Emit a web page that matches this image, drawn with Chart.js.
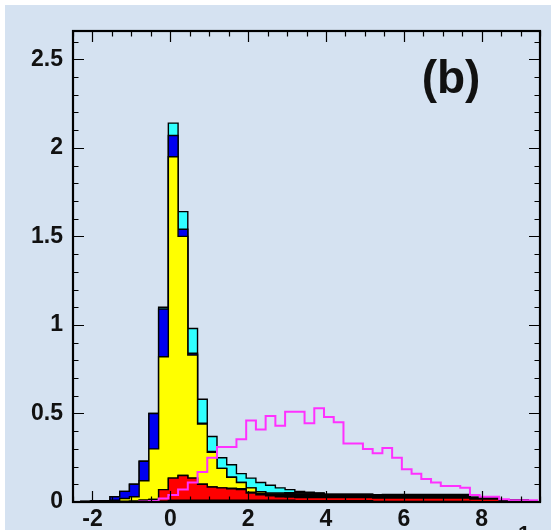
<!DOCTYPE html>
<html>
<head>
<meta charset="utf-8">
<script src="https://cdn.jsdelivr.net/npm/chart.js@4/dist/chart.umd.min.js"></script>
<style>
html,body{margin:0;padding:0;background:#ffffff;}
canvas{display:block;}
</style>
</head>
<body>
<canvas id="c" width="551" height="530"></canvas>
<script>
// ---- data ----
const binLow = [-2.55,-2.3,-2.05,-1.8,-1.55,-1.3,-1.05,-0.8,-0.55,-0.3,-0.05,0.2,0.45,0.7,0.95,1.2,1.45,1.7,1.95,2.2,2.45,2.7,2.95,3.2,3.45,3.7,3.95,4.2,4.45,4.7,4.95,5.2,5.45,5.7,5.95,6.2,6.45,6.7,6.95,7.2,7.45,7.7,7.95,8.2,8.45,8.7,8.95,9.2];
const binLastHigh = 9.45;

const greenBkg  = [0, 0,0,0,0,0,0,0,0.003,0.005,0.01,0.01,0.01,0.01,0.01,0.01,0.01,0.01,0.01,0.01,0.01,0.01,0.01,0.008,0.008,0.008,0.008,0.008,0.008,0.008,0.008,0.003,0.003,0.003,0.003,0.003,0.003,0.003,0.003,0.003,0.003,0,0,0,0,0,0,0];
const redBkg    = [0, 0,0,0,0,0.003,0.005,0.01,0.012,0.065,0.125,0.14,0.125,0.09,0.075,0.07,0.065,0.06,0.04,0.03,0.025,0.02,0.018,0.017,0.017,0.017,0.017,0.017,0.017,0.017,0.017,0.02,0.02,0.02,0.02,0.02,0.02,0.02,0.02,0.02,0.02,0.017,0.017,0.017,0.008,0.008,0.008,0];
const blackBkg  = [0, 0,0,0,0,0,0,0,0,0,0,0,0,0,0,0,0.003,0.005,0.005,0.008,0.01,0.015,0.02,0.025,0.025,0.022,0.017,0.017,0.017,0.017,0.017,0.017,0.017,0.017,0.017,0.017,0.017,0.017,0.017,0.017,0.017,0.008,0.008,0.008,0.004,0.004,0.004,0];
const yellowBkg = [0, 0.003,0.004,0.005,0.01,0.017,0.025,0.11,0.285,0.75,1.815,1.35,0.695,0.34,0.195,0.11,0.062,0.035,0.025,0.01,0.005,0.005,0.005,0.003,0.002,0.002,0,0,0,0,0,0,0.001,0.001,0.001,0.001,0.001,0.001,0.001,0.001,0.001,0,0,0,0,0,0,0];
const blueBkg   = [0, 0,0.002,0.003,0.02,0.04,0.07,0.11,0.2,0.27,0.12,0.04,0.01,0.005,0.005,0,0,0,0,0,0,0,0,0,0,0,0,0,0,0,0,0,0,0,0,0,0,0,0,0,0,0,0,0,0,0,0,0];
const cyanBkg   = [0, 0,0,0,0,0,0,0,0,0.01,0.07,0.1,0.14,0.135,0.085,0.06,0.07,0.05,0.055,0.052,0.045,0.03,0.017,0.007,0.003,0.001,0,0,0,0,0,0,0.001,0.001,0.001,0.001,0.001,0.001,0.001,0.001,0.001,0,0,0,0,0,0,0];
const magentaSig= [0, 0,0,0,0,0,0,0.003,0.005,0.02,0.04,0.07,0.11,0.17,0.25,0.31,0.31,0.355,0.46,0.41,0.485,0.43,0.51,0.51,0.445,0.53,0.48,0.45,0.33,0.33,0.3,0.275,0.305,0.25,0.185,0.16,0.13,0.11,0.09,0.09,0.08,0.04,0.03,0.03,0.015,0.01,0.01,0.01];

const xTickValues = [-2,0,2,4,6,8];
const yTickValues = [0,0.5,1,1.5,2,2.5];
const yTickLabels = ['0','0.5','1','1.5','2','2.5'];
const panelLabel = '(b)';
const xTitleFragment = '1';

// ---- build the library's table ----
function toSteps(arr){
  const pts = binLow.map((x,i)=>({x:x, y:arr[i]}));
  pts.push({x:binLastHigh, y:arr[arr.length-1]});
  return pts;
}
function layer(arr, color, fill){
  return {data: toSteps(arr), stepped:'before', backgroundColor: color, borderColor:'#000000',
          borderWidth:1.4, fill: fill, pointRadius:0, stack:'bkg', order:1};
}

const bgPlugin = {
  id:'bg',
  beforeDraw(chart){
    const c = chart.ctx;
    c.save();
    c.fillStyle = '#ffffff';
    c.fillRect(0,0,chart.width,chart.height);
    c.fillStyle = '#d5e2f1';
    c.fillRect(5,5,chart.width-5,chart.height-5);
    c.restore();
  },
  afterDraw(chart){
    const c = chart.ctx, a = chart.chartArea;
    const xs = chart.scales.x, ys = chart.scales.y;
    c.save();
    c.strokeStyle = '#000000';
    c.lineWidth = 1.2;
    c.beginPath();
    for (let i=0;i<=26;i++){
      const v = i*0.1;
      if (v > ys.max) break;
      const py = Math.round(ys.getPixelForValue(v))+0.5;
      const len = (i%5===0) ? 11 : 5.5;
      c.moveTo(a.left, py); c.lineTo(a.left+len, py);
      c.moveTo(a.right, py); c.lineTo(a.right-len, py);
    }
    for (let i=-5;i<=19;i++){
      const v = i*0.5;
      if (v < xs.min || v > xs.max) continue;
      const px = Math.round(xs.getPixelForValue(v))+0.5;
      const len = (i%4===0) ? 11 : 5.5;
      c.moveTo(px, a.top); c.lineTo(px, a.top+len);
      c.moveTo(px, a.bottom); c.lineTo(px, a.bottom-len);
    }
    c.stroke();
    c.lineWidth = 2.2;
    c.strokeRect(a.left, a.top, a.right-a.left, a.bottom-a.top);
    c.fillStyle = '#111111';
    c.font = 'bold 46px "Liberation Sans", Arial, sans-serif';
    c.textAlign = 'center';
    c.textBaseline = 'middle';
    c.fillText(panelLabel, 451, 80);
    c.font = 'bold 22px "Liberation Sans", Arial, sans-serif';
    c.textBaseline = 'alphabetic';
    c.fillText(xTitleFragment, 524, 541);
    c.restore();
  }
};

new Chart(document.getElementById('c'), {
  type:'line',
  data:{
    datasets:[
      layer(greenBkg,  '#008a00', 'origin'),
      layer(redBkg,    '#ff0000', '-1'),
      layer(blackBkg,  '#000000', '-1'),
      layer(yellowBkg, '#ffff00', '-1'),
      layer(blueBkg,   '#0000f0', '-1'),
      layer(cyanBkg,   '#30ffff', '-1'),
      {data: toSteps(magentaSig), stepped:'before', borderColor:'#ff30ff', borderWidth:2,
       fill:false, pointRadius:0, stack:'sig', order:0}
    ]
  },
  options:{
    responsive:false,
    devicePixelRatio:1,
    animation:false,
    events:[],
    layout:{padding:{top:31, right:11, left:0, bottom:0}},
    plugins:{legend:{display:false}, tooltip:{enabled:false}},
    scales:{
      x:{
        type:'linear', min:-2.5, max:9.5,
        grid:{display:false, drawTicks:false}, border:{display:false},
        afterBuildTicks(s){ s.ticks = xTickValues.map(v=>({value:v})); },
        afterFit(s){ s.height = 28; },
        ticks:{color:'#111111', padding:4, maxRotation:0,
               font:{family:'"Liberation Sans", Arial, sans-serif', size:23, weight:'bold'},
               callback:(v)=>String(v)}
      },
      y:{
        type:'linear', min:0, max:2.66, stacked:true,
        grid:{display:false, drawTicks:false}, border:{display:false},
        afterBuildTicks(s){ s.ticks = yTickValues.map(v=>({value:v})); },
        afterFit(s){ s.width = 73; },
        ticks:{color:'#111111', padding:10,
               font:{family:'"Liberation Sans", Arial, sans-serif', size:23, weight:'bold'},
               callback:(v)=>yTickLabels[yTickValues.indexOf(v)]}
      }
    }
  },
  plugins:[bgPlugin]
});
</script>
</body>
</html>
